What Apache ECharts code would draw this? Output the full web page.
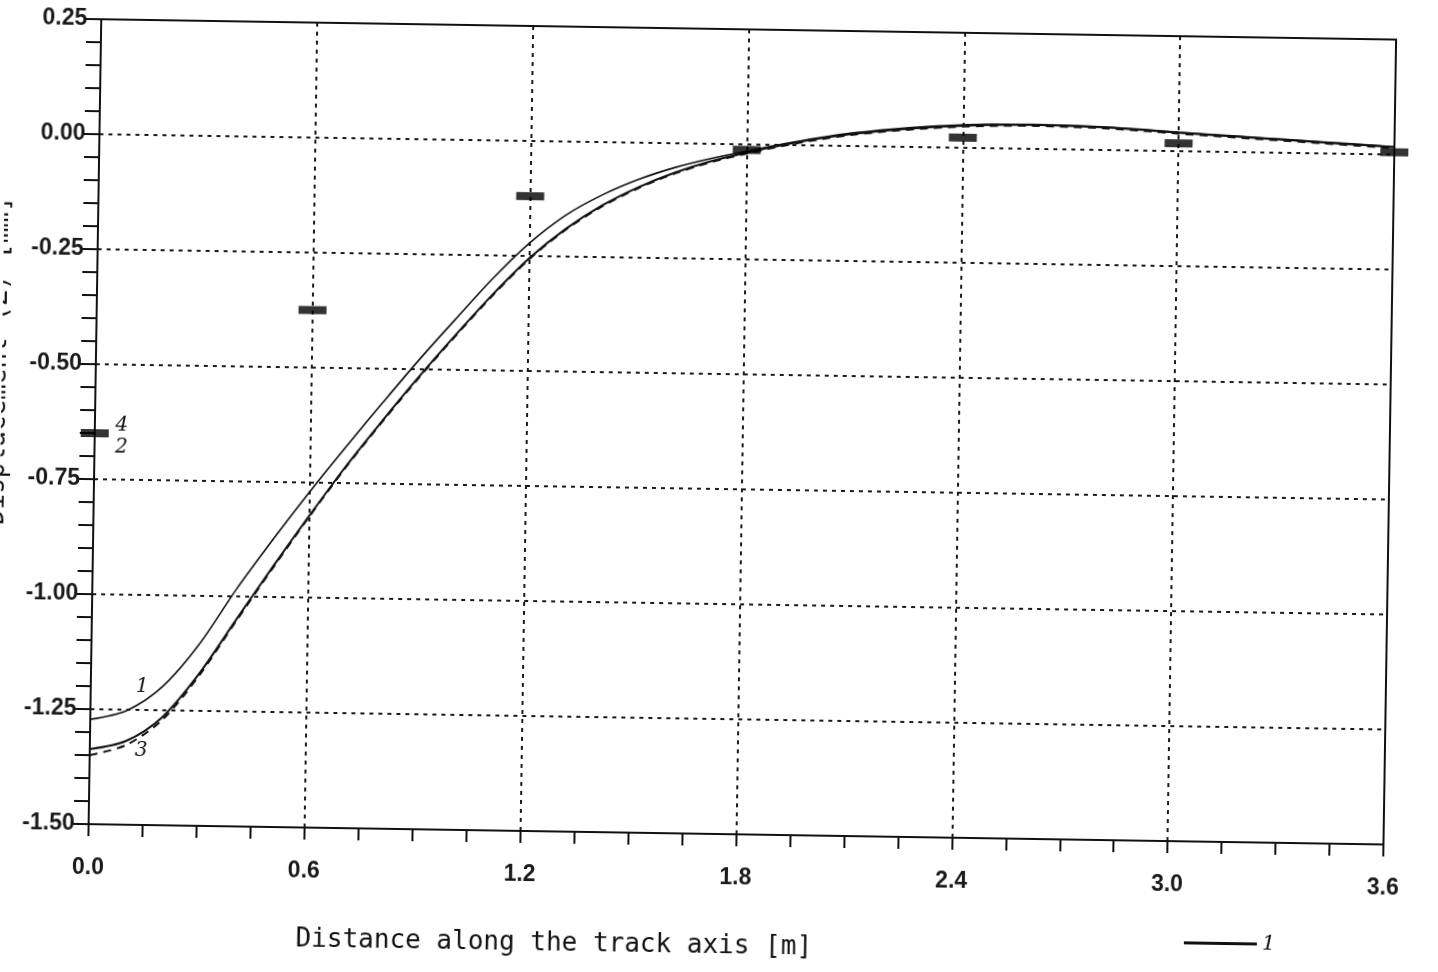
<!DOCTYPE html>
<html>
<head>
<meta charset="utf-8">
<title>Vertical displacement along the track axis</title>
<script src="https://cdn.jsdelivr.net/npm/echarts@6/dist/echarts.min.js"></script>
<style>
  html, body { margin: 0; padding: 0; background: #fff; overflow: hidden; }
  #chart { width: 1438px; height: 972px; transform: rotate(0.9deg); transform-origin: 50% 50%; }
</style>
</head>
<body>
<div id="chart"></div>
<script>
// Distance along the track axis [m]
const distance = [0, 0.1, 0.2, 0.3, 0.4, 0.5, 0.6, 0.7, 0.8, 0.9, 1.0, 1.1, 1.2, 1.3, 1.4, 1.5, 1.6, 1.7, 1.8,
  1.9, 2.0, 2.1, 2.2, 2.3, 2.4, 2.5, 2.6, 2.7, 2.8, 2.9, 3.0, 3.1, 3.2, 3.3, 3.4, 3.5, 3.6];

// Computed displacement curves [mm]
const curve1 = [-1.272, -1.252, -1.198, -1.105, -0.985, -0.875, -0.77, -0.67, -0.573, -0.478, -0.388, -0.3, -0.222,
  -0.16, -0.115, -0.08, -0.053, -0.032, -0.015, 0.002, 0.017, 0.029, 0.038, 0.045, 0.05, 0.052, 0.053, 0.052, 0.05,
  0.046, 0.041, 0.037, 0.033, 0.029, 0.025, 0.021, 0.017];
const curve2 = [-1.337, -1.318, -1.265, -1.17, -1.052, -0.935, -0.822, -0.713, -0.612, -0.515, -0.423, -0.335, -0.255,
  -0.19, -0.138, -0.097, -0.064, -0.038, -0.018, 0.0, 0.015, 0.027, 0.036, 0.043, 0.048, 0.051, 0.052, 0.051, 0.049,
  0.045, 0.04, 0.036, 0.032, 0.028, 0.024, 0.02, 0.016];
const curve3 = [-1.35, -1.327, -1.271, -1.174, -1.055, -0.938, -0.824, -0.715, -0.614, -0.517, -0.425, -0.337, -0.257,
  -0.192, -0.14, -0.099, -0.066, -0.04, -0.02, -0.002, 0.013, 0.025, 0.034, 0.041, 0.046, 0.049, 0.05, 0.049, 0.047,
  0.043, 0.038, 0.034, 0.03, 0.026, 0.022, 0.018, 0.014];

// Measured displacements (curve 4) at the sleeper positions
const measuredX = [0, 0.6, 1.2, 1.8, 2.4, 3.0, 3.6];
const measuredY = [-0.65, -0.375, -0.12, -0.012, 0.022, 0.017, 0.005];

// Axis tick labels
const xTicks = ['0.0', '0.6', '1.2', '1.8', '2.4', '3.0', '3.6'];
const yTicks = ['-1.50', '-1.25', '-1.00', '-0.75', '-0.50', '-0.25', '0.00', '0.25'];

const pairs = (xs, ys) => xs.map((x, i) => [x, ys[i]]);

const ink = '#111';
const tickFont = { color: '#1a1a1a', fontSize: 23, fontWeight: 'bold', fontFamily: 'Liberation Sans, Arial, sans-serif' };
const dotted = { color: '#1a1a1a', width: 2, type: [4, 5] };

const chart = echarts.init(document.getElementById('chart'), null, { renderer: 'canvas' });

chart.setOption({
  animation: false,
  backgroundColor: '#fff',
  grid: { left: 94, top: 29, width: 1295, height: 805, containLabel: false },
  legend: {
    left: 1186, top: 920,
    data: ['1'],
    icon: 'rect', itemWidth: 73, itemHeight: 3, itemGap: 10,
    textStyle: { color: ink, fontSize: 21, fontStyle: 'italic', fontFamily: 'DejaVu Serif, serif' }
  },
  xAxis: [{
    type: 'value', min: 0, max: 3.6, interval: 0.6, position: 'bottom',
    axisLine: { show: true, onZero: false, lineStyle: { color: ink, width: 2 } },
    axisTick: { show: true, inside: false, length: 12, lineStyle: { color: ink, width: 2 } },
    minorTick: { show: true, splitNumber: 4, length: 12, lineStyle: { color: ink, width: 2 } },
    axisLabel: { margin: 32, ...tickFont, formatter: (v) => xTicks[Math.round(v / 0.6)] },
    splitLine: { show: true, lineStyle: dotted }
  }, {
    type: 'value', min: 0, max: 3.6, position: 'top',
    axisLine: { show: true, onZero: false, lineStyle: { color: ink, width: 2 } },
    axisTick: { show: false }, axisLabel: { show: false }, splitLine: { show: false }
  }],
  yAxis: [{
    type: 'value', min: -1.5, max: 0.25, interval: 0.25, position: 'left',
    axisLine: { show: true, onZero: false, lineStyle: { color: ink, width: 2 } },
    axisTick: { show: true, inside: false, length: 16, lineStyle: { color: ink, width: 2 } },
    minorTick: { show: true, splitNumber: 5, length: 15, lineStyle: { color: ink, width: 2 } },
    axisLabel: { margin: 14, ...tickFont, formatter: (v) => yTicks[Math.round((v + 1.5) / 0.25)] },
    splitLine: { show: true, lineStyle: dotted }
  }, {
    type: 'value', min: -1.5, max: 0.25, position: 'right',
    axisLine: { show: true, onZero: false, lineStyle: { color: ink, width: 2 } },
    axisTick: { show: false }, axisLabel: { show: false }, splitLine: { show: false }
  }],
  series: [
    {
      name: '1', type: 'line', data: pairs(distance, curve1), smooth: 0.3, symbol: 'none',
      lineStyle: { color: ink, width: 1.6 }, itemStyle: { color: ink }, z: 3
    },
    {
      name: '2', type: 'line', data: pairs(distance, curve2), smooth: 0.3, symbol: 'none',
      lineStyle: { color: ink, width: 2 }, itemStyle: { color: ink }, z: 3
    },
    {
      name: '3', type: 'line', data: pairs(distance, curve3), smooth: 0.3, symbol: 'none',
      lineStyle: { color: ink, width: 2, type: [8, 6] }, itemStyle: { color: ink }, z: 3
    },
    {
      name: '4', type: 'scatter', data: pairs(measuredX, measuredY),
      symbol: 'rect', symbolSize: [28, 8], itemStyle: { color: '#000' }, z: 4
    }
  ]
});

// Hand-written curve numbers, placed from data coordinates
const notes = [
  { text: '1', at: [0.143, -1.2] },
  { text: '3', at: [0.143, -1.338] },
  { text: '4', at: [0.075, -0.632] },
  { text: '2', at: [0.075, -0.68] }
];
const noteStyle = { fill: ink, fontSize: 20, fontStyle: 'italic', fontFamily: 'DejaVu Serif, serif' };

chart.setOption({
  graphic: [
    ...notes.map((n) => {
      const p = chart.convertToPixel({ xAxisIndex: 0, yAxisIndex: 0 }, n.at);
      return { type: 'text', x: p[0], y: p[1], style: { text: n.text, align: 'center', verticalAlign: 'middle', ...noteStyle } };
    }),
    {
      type: 'text', x: 561, y: 946,
      style: { text: 'Distance along the track axis [m]', align: 'center', verticalAlign: 'middle',
        fill: ink, fontSize: 26, fontFamily: 'DejaVu Sans Mono, Liberation Mono, monospace' }
    },
    {
      type: 'text', x: -3, y: 372, rotation: Math.PI / 2,
      style: { text: 'Displacement (Z) [mm]', align: 'center', verticalAlign: 'middle',
        fill: ink, fontSize: 26, fontFamily: 'DejaVu Sans Mono, Liberation Mono, monospace' }
    }
  ]
});
</script>
</body>
</html>
